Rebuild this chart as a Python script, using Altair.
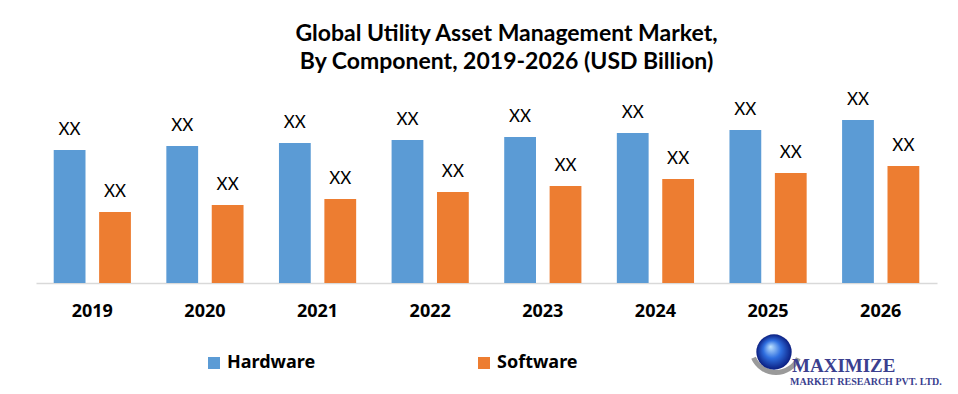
import altair as alt
import pandas as pd

years = ["2019", "2020", "2021", "2022", "2023", "2024", "2025", "2026"]
hardware = [13.3, 13.7, 14.0, 14.3, 14.6, 15.0, 15.3, 16.3]
software = [7.1, 7.8, 8.4, 9.1, 9.7, 10.4, 11.0, 11.7]
series = ["Hardware", "Software"]
colors = ["#5B9BD5", "#ED7D31"]
label_text = "XX"

rows = []
for i, y in enumerate(years):
    rows.append({"year": y, "component": "Hardware", "value": hardware[i], "label": label_text})
    rows.append({"year": y, "component": "Software", "value": software[i], "label": label_text})
df = pd.DataFrame(rows)

FONT = "Lato"
BOLD_FONT = "Noto Sans"

x = alt.X("year:N", sort=years,
          scale=alt.Scale(paddingInner=0, paddingOuter=0),
          axis=alt.Axis(title=None, labelAngle=0, ticks=False, labelPadding=19,
                        labelFont=BOLD_FONT, labelFontSize=18, labelFontWeight="bold",
                        labelColor="#000000", domainColor="#d9d9d9", domainWidth=1.5,
                        grid=False))
xo = alt.XOffset("component:N", sort=series,
                 scale=alt.Scale(paddingInner=0.3, paddingOuter=0.39))
y = alt.Y("value:Q", scale=alt.Scale(domain=[0, 19.3], nice=False), axis=None)

bars = alt.Chart(df).mark_bar().encode(
    x=x, xOffset=xo, y=y,
    color=alt.Color("component:N", sort=series,
                    scale=alt.Scale(domain=series, range=colors),
                    legend=alt.Legend(title=None, orient="none", legendX=169, legendY=264,
                                      direction="horizontal", symbolType="square",
                                      symbolSize=144, symbolStrokeWidth=0,
                                      labelFont=BOLD_FONT, labelFontSize=18,
                                      labelFontWeight="bold", labelColor="#000000",
                                      columnPadding=159, labelOffset=4)),
)

labels = alt.Chart(df).mark_text(font=FONT, fontSize=17, baseline="alphabetic",
                                 dy=-15, color="#000000").encode(
    x=x, xOffset=xo, y=y, text="label:N")

logo_df = pd.DataFrame({"a": ["MAXIMIZE"], "b": ["MARKET RESEARCH PVT. LTD."]})
swoosh = alt.Chart(logo_df).mark_arc(
    innerRadius=22, outerRadius=27, theta=2.0, theta2=4.3, color="#9a9a9a"
).encode(x=alt.value(740), y=alt.value(258))
globe = alt.Chart(logo_df).mark_circle(
    size=1250, opacity=1,
    color=alt.Gradient(gradient="radial", x1=0.4, y1=0.35, x2=0.5, y2=0.5, r1=0, r2=0.5,
                       stops=[
        alt.GradientStop(color="#bfe3ff", offset=0),
        alt.GradientStop(color="#2f6fe0", offset=0.5),
        alt.GradientStop(color="#0b1e80", offset=1)])
).encode(x=alt.value(738), y=alt.value(262))
logo1 = alt.Chart(logo_df).mark_text(font="Liberation Serif", fontSize=19, fontWeight="bold",
                                     align="left", baseline="alphabetic", color="#3b3f8f").encode(
    x=alt.value(756), y=alt.value(282), text="a:N")
logo2 = alt.Chart(logo_df).mark_text(font="Liberation Serif", fontSize=10, fontWeight="bold",
                                     align="left", baseline="alphabetic", color="#3b3f8f").encode(
    x=alt.value(754), y=alt.value(295), text="b:N")

chart = alt.layer(bars, labels, swoosh, globe, logo1, logo2).properties(
    width=901, height=193,
    autosize=alt.AutoSizeParams(type="none"),
    padding={"left": 28, "top": 82, "right": 13, "bottom": 103},
    background="#ffffff",
    title=alt.TitleParams(text=["Global Utility Asset Management Market,",
                                "By Component,  2019-2026 (USD Billion)"],
                          font=FONT, fontSize=23, fontWeight="bold", color="#000000",
                          anchor="middle", dx=20, offset=16, lineHeight=28),
).configure_view(strokeWidth=0, stroke=None)

chart.save("out.html", embed_options={"renderer": "svg", "actions": False})
